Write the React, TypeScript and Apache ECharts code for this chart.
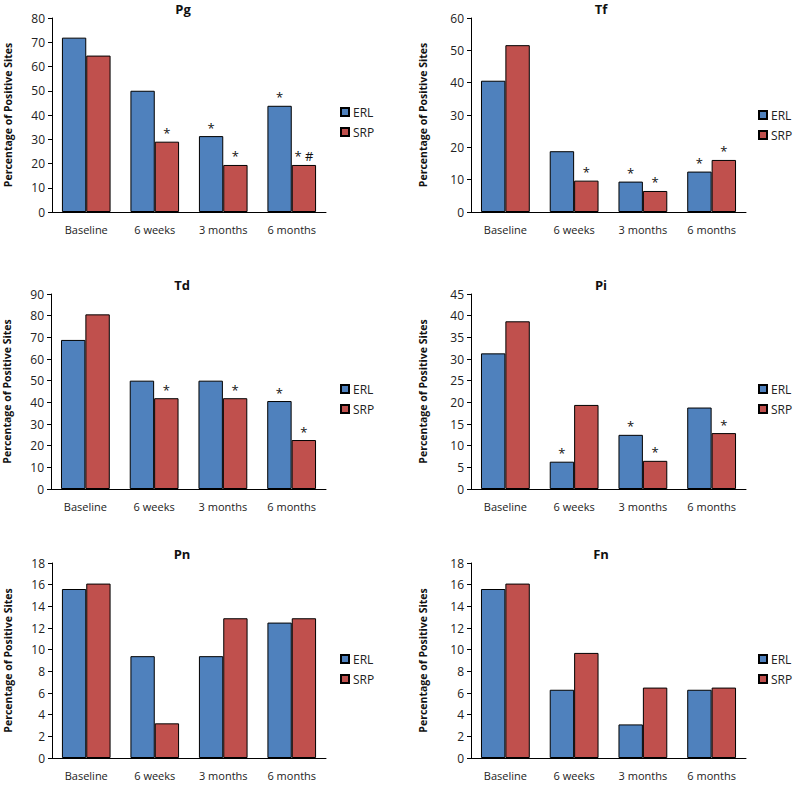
import React, { useEffect, useRef } from "react";
import * as echarts from "echarts";

const categories = ["Baseline", "6 weeks", "3 months", "6 months"];
const seriesNames = ["ERL", "SRP"];

const panelTitles = ["Pg", "Tf", "Td", "Pi", "Pn", "Fn"];
const yMax = [80, 60, 90, 45, 18, 18];
const yInterval = [10, 10, 10, 5, 2, 2];

const pgERL = [71.9, 50.0, 31.3, 43.8];
const pgSRP = [64.5, 29.0, 19.4, 19.4];
const tfERL = [40.6, 18.8, 9.4, 12.5];
const tfSRP = [51.6, 9.7, 6.5, 16.1];
const tdERL = [68.8, 50.0, 50.0, 40.6];
const tdSRP = [80.6, 41.9, 41.9, 22.6];
const piERL = [31.3, 6.3, 12.5, 18.8];
const piSRP = [38.7, 19.4, 6.5, 12.9];
const pnERL = [15.6, 9.4, 9.4, 12.5];
const pnSRP = [16.1, 3.2, 12.9, 12.9];
const fnERL = [15.6, 6.3, 3.1, 6.3];
const fnSRP = [16.1, 9.7, 6.5, 6.5];

const pgERLMarks = ["", "", "*", "*"];
const pgSRPMarks = ["", "*", "*", "* #"];
const tfERLMarks = ["", "", "*", "*"];
const tfSRPMarks = ["", "*", "*", "*"];
const tdERLMarks = ["", "", "", "*"];
const tdSRPMarks = ["", "*", "*", "*"];
const piERLMarks = ["", "*", "*", ""];
const piSRPMarks = ["", "", "*", "*"];
const pnERLMarks = ["", "", "", ""];
const pnSRPMarks = ["", "", "", ""];
const fnERLMarks = ["", "", "", ""];
const fnSRPMarks = ["", "", "", ""];

const erlValues = [pgERL, tfERL, tdERL, piERL, pnERL, fnERL];
const srpValues = [pgSRP, tfSRP, tdSRP, piSRP, pnSRP, fnSRP];
const erlMarks = [pgERLMarks, tfERLMarks, tdERLMarks, piERLMarks, pnERLMarks, fnERLMarks];
const srpMarks = [pgSRPMarks, tfSRPMarks, tdSRPMarks, piSRPMarks, pnSRPMarks, fnSRPMarks];

const FONT = "'Open Sans', 'Noto Sans', sans-serif";
const BLUE = "#4F81BD";
const RED = "#C0504D";

// layout (pixels)
const grids = [
  { left: 52, top: 18, width: 274, height: 194 },
  { left: 471, top: 18, width: 275, height: 194 },
  { left: 51, top: 294, width: 275, height: 195 },
  { left: 471, top: 294, width: 275, height: 195 },
  { left: 52, top: 563, width: 274, height: 195 },
  { left: 471, top: 563, width: 275, height: 195 },
];
const titlePos = [
  { x: 183, y: 2 },
  { x: 601, y: 2 },
  { x: 182, y: 278 },
  { x: 601, y: 278 },
  { x: 182, y: 547 },
  { x: 601, y: 547 },
];
const legendPos = [
  { x: 340, y: 106 },
  { x: 758, y: 109 },
  { x: 340, y: 383 },
  { x: 758, y: 383 },
  { x: 340, y: 653 },
  { x: 758, y: 653 },
];

export default function App() {
  const ref = useRef<HTMLDivElement>(null);
  useEffect(() => {
    if (!ref.current) return;
    const chart = echarts.init(ref.current, undefined, { renderer: "svg" });
    const option: any = {
      animation: false,
      backgroundColor: "#ffffff",
      title: panelTitles.map((t, i) => ({
        text: t,
        left: titlePos[i].x,
        top: titlePos[i].y,
        textAlign: "center",
        padding: 0,
        textStyle: { fontFamily: FONT, fontSize: 13, fontWeight: "bold", color: "#111" },
      })),
      legend: panelTitles.map((_, i) => ({
        data: seriesNames,
        orient: "vertical",
        left: legendPos[i].x,
        top: legendPos[i].y,
        padding: 0,
        itemWidth: 8,
        itemHeight: 8,
        itemGap: 8,
        icon: "rect",
        selectedMode: false,
        textStyle: { fontFamily: FONT, fontSize: 12, color: "#222", padding: [0, 0, 0, -1] },
      })),
      grid: grids.map((g) => ({ ...g, containLabel: false })),
      xAxis: grids.map((_, i) => ({
        type: "category",
        gridIndex: i,
        data: categories,
        axisLine: { lineStyle: { color: "#000", width: 1 } },
        axisTick: { show: false },
        axisLabel: { interval: 0, fontFamily: FONT, fontSize: 11, color: "#222", margin: 12 },
      })),
      yAxis: grids.map((_, i) => ({
        type: "value",
        gridIndex: i,
        min: 0,
        max: yMax[i],
        interval: yInterval[i],
        name: "Percentage of Positive Sites",
        nameLocation: "middle",
        nameRotate: 90,
        nameGap: i % 2 === 0 ? 39 : 43,
        nameTextStyle: { fontFamily: FONT, fontSize: 10.5, fontWeight: "bold", color: "#111" },
        axisLine: { show: true, lineStyle: { color: "#000", width: 1 } },
        axisTick: { show: true, length: 4, lineStyle: { color: "#000" } },
        splitLine: { show: false },
        axisLabel: { fontFamily: FONT, fontSize: 12, color: "#222", margin: 7 },
      })),
      series: [] as any[],
    };
    for (let i = 0; i < 6; i++) {
      const pairs: [string, number[], string[], string][] = [
        ["ERL", erlValues[i], erlMarks[i], BLUE],
        ["SRP", srpValues[i], srpMarks[i], RED],
      ];
      pairs.forEach(([name, vals, marks, color]) => {
        option.series.push({
          type: "bar",
          name,
          xAxisIndex: i,
          yAxisIndex: i,
          data: vals,
          barGap: "0%",
          barCategoryGap: "29%",
          itemStyle: { color, borderColor: "#000", borderWidth: 1 },
          label: {
            show: true,
            position: "top",
            distance: 2,
            fontFamily: FONT,
            fontSize: 13,
            color: "#111",
            formatter: (p: any) => marks[p.dataIndex],
          },
        });
      });
    }
    chart.setOption(option);
    return () => chart.dispose();
  }, []);
  return (
    <div
      ref={ref}
      style={{ position: "absolute", left: 0, top: 0, width: 800, height: 789 }}
    />
  );
}
